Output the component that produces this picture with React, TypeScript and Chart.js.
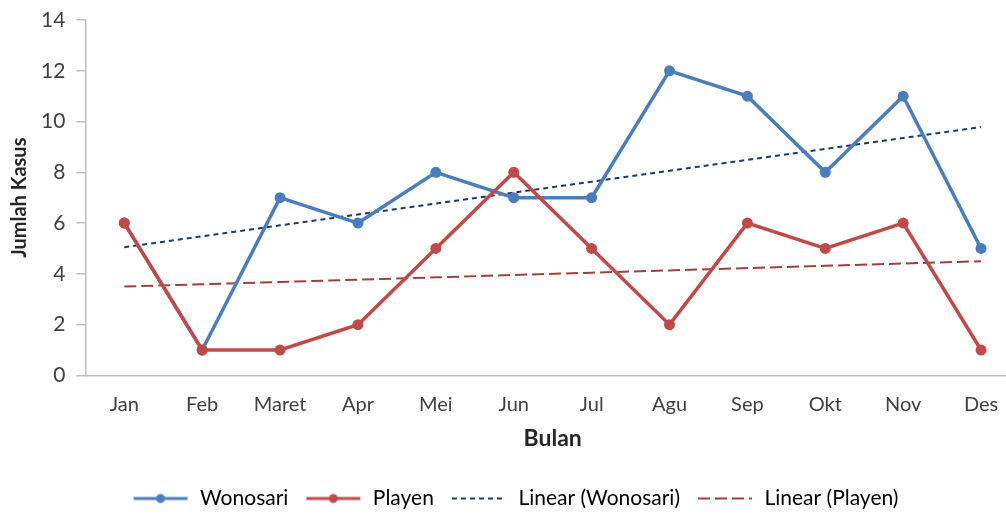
import React, { useEffect, useRef } from "react";
import { Chart, registerables } from "chart.js";

Chart.register(...registerables);

const months = ["Jan", "Feb", "Maret", "Apr", "Mei", "Jun", "Jul", "Agu", "Sep", "Okt", "Nov", "Des"];
const wonosari = [6, 1, 7, 6, 8, 7, 7, 12, 11, 8, 11, 5];
const playen = [6, 1, 1, 2, 5, 8, 5, 2, 6, 5, 6, 1];
const yTicks = [0, 2, 4, 6, 8, 10, 12, 14];

const BLUE = "#4A7EBB";
const RED = "#BE4B48";
const TBLUE = "#1F3A66";
const TRED = "#A0403E";

function linearTrend(ys: number[]): number[] {
  const n = ys.length;
  const xs = ys.map((_, i) => i + 1);
  const mx = xs.reduce((a, b) => a + b, 0) / n;
  const my = ys.reduce((a, b) => a + b, 0) / n;
  let sxy = 0, sxx = 0;
  xs.forEach((x, i) => { sxy += (x - mx) * (ys[i] - my); sxx += (x - mx) * (x - mx); });
  const b = sxy / sxx;
  const a = my - b * mx;
  return xs.map((x) => a + b * x);
}

function legendIcon(color: string, dash: number[] | null, marker: boolean, width: number): HTMLCanvasElement {
  const c = document.createElement("canvas");
  c.width = 58;
  c.height = 14;
  const ctx = c.getContext("2d")!;
  ctx.strokeStyle = color;
  ctx.lineWidth = width;
  if (dash) ctx.setLineDash(dash);
  ctx.beginPath();
  ctx.moveTo(2, 7);
  ctx.lineTo(56, 7);
  ctx.stroke();
  if (marker) {
    ctx.setLineDash([]);
    ctx.fillStyle = color;
    ctx.beginPath();
    ctx.arc(29, 7, 4.5, 0, Math.PI * 2);
    ctx.fill();
  }
  return c;
}

export default function App() {
  const ref = useRef<HTMLCanvasElement | null>(null);
  useEffect(() => {
    if (!ref.current) return;
    const icons = [
      legendIcon(BLUE, null, true, 3),
      legendIcon(RED, null, true, 3),
      legendIcon(TBLUE, [5, 4], false, 2),
      legendIcon(TRED, [12, 5], false, 2),
    ];
    const names = ["Wonosari", "Playen", "Linear (Wonosari)", "Linear (Playen)"];
    const font = "Lato, 'Open Sans', sans-serif";
    const chart = new Chart(ref.current, {
      type: "line",
      data: {
        labels: months,
        datasets: [
          {
            label: "Linear (Wonosari)",
            data: linearTrend(wonosari),
            borderColor: TBLUE,
            borderWidth: 2,
            borderDash: [5, 4],
            pointRadius: 0,
            fill: false,
            order: 3,
          },
          {
            label: "Linear (Playen)",
            data: linearTrend(playen),
            borderColor: TRED,
            borderWidth: 2,
            borderDash: [12, 5],
            pointRadius: 0,
            fill: false,
            order: 4,
          },
          {
            label: "Wonosari",
            data: wonosari,
            borderColor: BLUE,
            backgroundColor: BLUE,
            borderWidth: 3.5,
            pointRadius: 5.5,
            pointBorderWidth: 0,
            pointBackgroundColor: BLUE,
            fill: false,
            order: 2,
          },
          {
            label: "Playen",
            data: playen,
            borderColor: RED,
            backgroundColor: RED,
            borderWidth: 3.5,
            pointRadius: 5.5,
            pointBorderWidth: 0,
            pointBackgroundColor: RED,
            fill: false,
            order: 1,
          },
        ],
      },
      options: {
        animation: false,
        responsive: false,
        maintainAspectRatio: false,
        layout: { padding: { top: 20, left: 10, right: 6, bottom: -4 } },
        plugins: {
          tooltip: { enabled: false },
          legend: {
            position: "bottom",
            labels: {
              usePointStyle: true,
              pointStyleWidth: 58,
              boxHeight: 14,
              padding: 16,
              color: "#404040",
              font: { family: font, size: 21 },
              generateLabels: () =>
                names.map((n, i) => ({
                  text: n,
                  pointStyle: icons[i] as any,
                  fillStyle: "transparent",
                  strokeStyle: "transparent",
                  lineWidth: 0,
                  hidden: false,
                  datasetIndex: i,
                })),
            },
          },
        },
        scales: {
          x: {
            offset: true,
            grid: { display: true, drawOnChartArea: false, drawTicks: false },
            border: { display: true, color: "#BFBFBF", width: 1.5 },
            ticks: { color: "#404040", font: { family: font, size: 20 }, padding: 17 },
            title: {
              display: true,
              text: "Bulan",
              color: "#262626",
              font: { family: font, size: 23, weight: "bold" },
              padding: { top: -9, bottom: 20 },
            },
          },
          y: {
            min: 0,
            max: 14,
            afterBuildTicks: (axis: any) => {
              axis.ticks = yTicks.map((v) => ({ value: v }));
            },
            afterFit: (axis: any) => {
              axis.paddingTop = 0;
            },
            grid: { display: true, drawOnChartArea: false, drawTicks: true, tickLength: 9, color: "#BFBFBF", lineWidth: 1.5 },
            border: { display: true, color: "#BFBFBF", width: 1.5 },
            ticks: { color: "#404040", font: { family: font, size: 21 }, padding: 11 },
            title: {
              display: true,
              text: "Jumlah Kasus",
              color: "#262626",
              font: { family: font, size: 20, weight: "bold", lineHeight: 1 },
              padding: { top: 0, bottom: 0 },
            },
          },
        },
      },
    });
    return () => chart.destroy();
  }, []);
  return (
    <div style={{ position: "fixed", left: 0, top: 0, width: 1006, height: 515, overflow: "hidden", background: "#fff" }}>
      <canvas ref={ref} width={1026} height={515} style={{ display: "block" }} />
    </div>
  );
}
